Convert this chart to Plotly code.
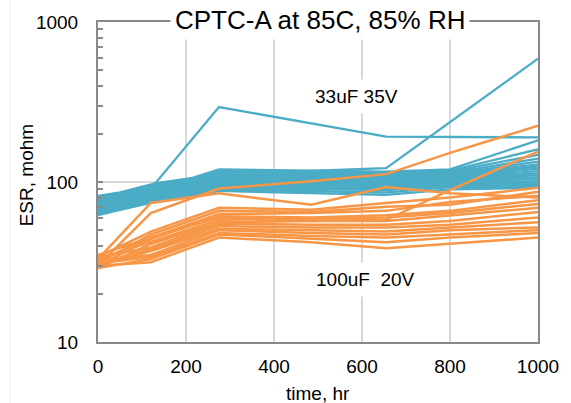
import plotly.graph_objects as go

# time points (hr)
blue_time = [0, 50, 130, 215, 275, 655, 800, 1000]
orange_time = [0, 120, 275, 485, 655, 800, 1000]

# 33uF 35V parts (ESR, mohm); None = no reading at that time
blue_series = [
    [82, 86, 98, 106, 120, 116, 120, 182],
    [80, 85, 96, 104, 117, 114, 118, 160],
    [79, 84, 95, 103, 115, 112, 116, 148],
    [77, 83, 94, 101, 113, 110, 114, 140],
    [76, 81, 92, 100, 111, 109, 112, 134],
    [75, 80, 91, 99, 109, 107, 111, 129],
    [74, 79, 90, 98, 108, 106, 109, 125],
    [73, 78, 88, 96, 106, 104, 108, 121],
    [72, 77, 87, 95, 104, 103, 106, 117],
    [71, 76, 86, 94, 103, 101, 105, 113],
    [70, 75, 85, 93, 101, 100, 104, 110],
    [69, 74, 84, 92, 100, 99, 102, 107],
    [68, 73, 83, 91, 99, 97, 101, 104],
    [67, 72, 81, 89, 97, 95, 99, 101],
    [66, 71, 80, 88, 95, 93, 98, 99],
    [65, 70, 79, 87, 94, 91, 96, 97],
    [64, 69, 78, 85, 92, 89, 95, 95],
    [63, 68, 76, 83, 90, 86, 93, 93],
    [62, 67, 75, 81, 88, 83, 90, 92],
    [68, 76, 98, None, 294, 192, None, 190],
    [72, 78, 90, 100, 112, 122, None, 590],
]

# 100uF 20V parts (ESR, mohm)
orange_series = [
    [30, 64, 91, 101, 112, 152, 225],
    [33, 74, 85, 72, 93, 85, 80],
    [32, 45, 60, 57, 58, 89, 155],
    [34, 49, 69, 67, 74, 80, 92],
    [31, 47, 66, 65, 70, 72, 87],
    [35, 45, 63, 64, 66, 75, 82],
    [30, 44, 61, 60, 62, 66, 77],
    [33, 42, 58, 59, 60, 64, 73],
    [29, 41, 56, 57, 57, 62, 69],
    [34, 39, 55, 54, 54, 57, 65],
    [31, 38, 53, 52, 52, 54, 60],
    [30, 37, 51, 50, 49, 52, 56],
    [32, 35, 50, 48, 47, 50, 52],
    [31, 34, 48, 46, 45, 47, 50],
    [29, 33, 47, 44, 42, 45, 48],
    [30, 31.5, 45, 42, 38.5, 41, 45],
]

x_ticks = [0, 200, 400, 600, 800, 1000]
y_ticks = [10, 100, 1000]
y_minor = [20, 30, 40, 50, 60, 70, 80, 90, 200, 300, 400, 500, 600, 700, 800, 900]

title_text = "CPTC-A at 85C, 85% RH"
label_blue = "33uF 35V"
label_orange = "100uF  20V"

BLUE = "#4BACC6"
ORANGE = "#F79646"
FONT = "Liberation Sans, Arial, sans-serif"

fig = go.Figure()
for s in blue_series:
    fig.add_trace(go.Scatter(x=blue_time, y=s, mode="lines", connectgaps=True,
                             line=dict(color=BLUE, width=2.3), showlegend=False,
                             hoverinfo="skip"))
for s in orange_series:
    fig.add_trace(go.Scatter(x=orange_time, y=s, mode="lines", connectgaps=True,
                             line=dict(color=ORANGE, width=2.5), showlegend=False,
                             hoverinfo="skip"))

fig.update_layout(
    width=571, height=403,
    margin=dict(l=98, r=22, t=22, b=61),
    paper_bgcolor="white", plot_bgcolor="white",
    font=dict(family=FONT, size=19, color="#000000"),
    showlegend=False,
)
fig.update_xaxes(
    range=[0, 1000], tickvals=x_ticks, ticktext=[str(v) for v in x_ticks],
    showgrid=True, gridcolor="#D9D9D9", gridwidth=2,
    showline=True, linecolor="#898989", linewidth=2, mirror=True,
    ticks="", zeroline=False, ticklabelstandoff=6,
    tickfont=dict(size=19, color="#000000"),
)
fig.update_yaxes(
    type="log", range=[1, 3], tickvals=y_ticks, ticktext=[str(v) for v in y_ticks],
    showgrid=True, gridcolor="#D9D9D9", gridwidth=2,
    showline=True, linecolor="#898989", linewidth=2, mirror=True,
    ticks="inside", ticklen=5, tickcolor="#898989", tickwidth=2,
    minor=dict(tickvals=y_minor, ticks="inside", ticklen=5, tickcolor="#898989",
               tickwidth=2, showgrid=False),
    zeroline=False, ticklabelstandoff=14,
    tickfont=dict(size=19, color="#000000"),
)

fig.add_annotation(text=title_text, xref="paper", yref="paper", x=0.505, y=1.006,
                   xanchor="center", yanchor="middle", showarrow=False,
                   font=dict(size=26, color="#000000"), bgcolor="white", borderpad=4)
fig.add_annotation(text=label_blue, xref="paper", yref="paper", x=0.588, y=0.766,
                   xanchor="center", yanchor="middle", showarrow=False,
                   font=dict(size=19, color="#000000"), bgcolor="white", borderpad=6)
fig.add_annotation(text=label_orange, xref="paper", yref="paper", x=0.607, y=0.194,
                   xanchor="center", yanchor="middle", showarrow=False,
                   font=dict(size=19, color="#000000"), bgcolor="white", borderpad=6)
fig.add_annotation(text="ESR, mohm", xref="paper", yref="paper", x=-0.162, y=0.52,
                   xanchor="center", yanchor="middle", textangle=-90, showarrow=False,
                   font=dict(size=19, color="#000000"))
fig.add_annotation(text="time, hr", xref="paper", yref="paper", x=0.5, y=-0.16,
                   xanchor="center", yanchor="middle", showarrow=False,
                   font=dict(size=19, color="#000000"))
fig.add_shape(type="line", xref="paper", yref="paper", x0=-0.2, x1=-0.2, y0=-0.2, y1=1.07,
              line=dict(color="#F0F0F0", width=1))

fig.write_html("out.html")
